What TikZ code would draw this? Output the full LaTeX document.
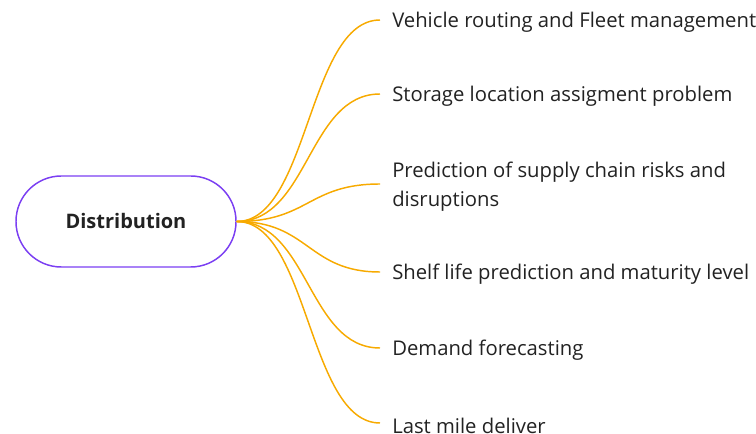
\documentclass[tikz,border=0pt]{standalone}
\usepackage{fontspec}
\setmainfont{Open Sans}
\definecolor{rootpurple}{HTML}{7B3FF2}
\definecolor{branchorange}{HTML}{F7AA00}
\definecolor{txt}{HTML}{222222}
\newcommand{\lowtext}[1]{\raisebox{-2pt}[\height][\depth]{#1}}
\begin{document}
\begin{tikzpicture}[x=0.75pt,y=-0.75pt,
  rootbox/.style={draw=rootpurple,line width=1.1pt,rounded corners=34pt,
    minimum width=165pt,minimum height=68.25pt,text=txt,
    font=\fontsize{15}{18}\selectfont\bfseries},
  leaf/.style={anchor=west,inner xsep=9pt,inner ysep=0pt,text=txt,align=left,
    font=\fontsize{15.2}{21.75}\selectfont},
  branch/.style={draw=branchorange,line width=1.1pt}]
\useasboundingbox (0,0) rectangle (756,434);
\node[rootbox] (root) at (126,221.5) {Distribution};
\node[leaf] (l1) at (380,20) {\lowtext{Vehicle routing and Fleet management}};
\node[leaf] (l2) at (380,94) {\lowtext{Storage location assigment problem}};
\node[leaf] (l3) at (380,184) {\lowtext{\begin{tabular}{@{}l@{}}Prediction of supply chain risks and\\disruptions\end{tabular}}};
\node[leaf] (l4) at (380,272) {\lowtext{Shelf life prediction and maturity level}};
\node[leaf] (l5) at (380,348) {\lowtext{Demand forecasting}};
\node[leaf] (l6) at (380,423) {\lowtext{Last mile deliver}};
\foreach \n in {l1,l2,l3,l4,l5,l6}
  \draw[branch] (root.east) .. controls +(54pt,0) and +(-54pt,0) .. (\n.west);
\end{tikzpicture}
\end{document}
